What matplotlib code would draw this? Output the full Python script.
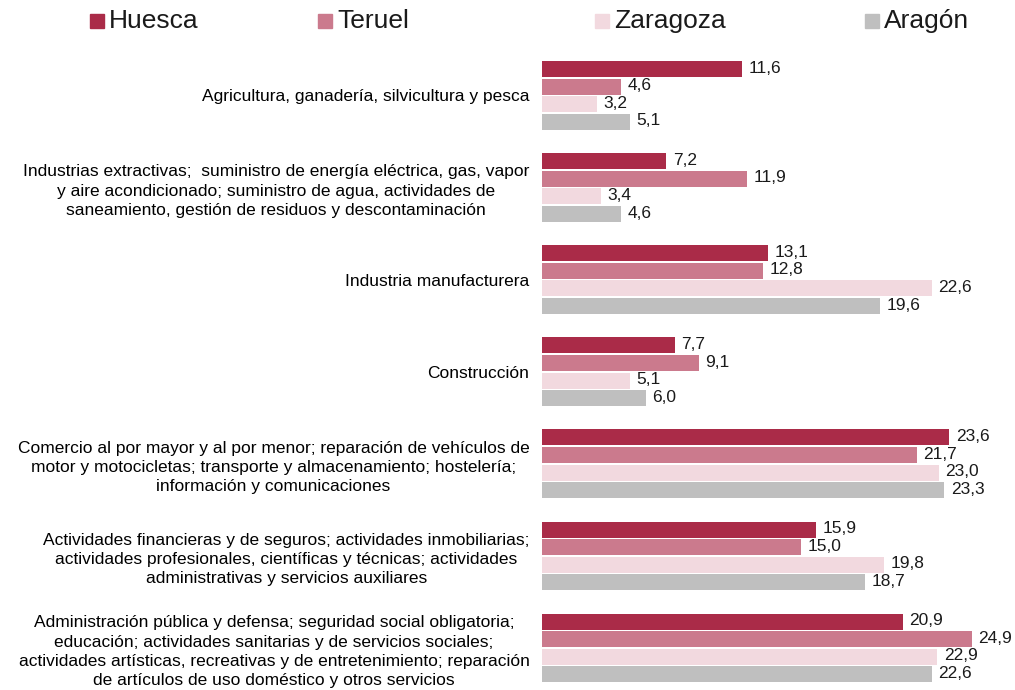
import matplotlib
matplotlib.use("Agg")
import matplotlib.pyplot as plt
from matplotlib.patches import Rectangle
import numpy as np

plt.rcParams['font.family'] = ['Liberation Sans', 'DejaVu Sans']

categories = [
    "Agricultura, ganadería, silvicultura y pesca",
    "Industrias extractivas;  suministro de energía eléctrica, gas, vapor\ny aire acondicionado; suministro de agua, actividades de\nsaneamiento, gestión de residuos y descontaminación",
    "Industria manufacturera",
    "Construcción",
    "Comercio al por mayor y al por menor; reparación de vehículos de\nmotor y motocicletas; transporte y almacenamiento; hostelería;\ninformación y comunicaciones",
    "Actividades financieras y de seguros; actividades inmobiliarias;\nactividades profesionales, científicas y técnicas; actividades\nadministrativas y servicios auxiliares",
    "Administración pública y defensa; seguridad social obligatoria;\neducación; actividades sanitarias y de servicios sociales;\nactividades artísticas, recreativas y de entretenimiento; reparación\nde artículos de uso doméstico y otros servicios",
]
series_names = ["Huesca", "Teruel", "Zaragoza", "Aragón"]
huesca = [11.6, 7.2, 13.1, 7.7, 23.6, 15.9, 20.9]
teruel = [4.6, 11.9, 12.8, 9.1, 21.7, 15.0, 24.9]
zaragoza = [3.2, 3.4, 22.6, 5.1, 23.0, 19.8, 22.9]
aragon = [5.1, 4.6, 19.6, 6.0, 23.3, 18.7, 22.6]
series = [huesca, teruel, zaragoza, aragon]
colors = ["#AA2B48", "#CB7A8D", "#F2D9DF", "#BFBFBF"]

fig = plt.figure(figsize=(10.15, 6.9), dpi=100)
ax = fig.add_axes([542/1015, 0.0, (1008-542)/1015, 1 - 50/690])

pitch = 0.191
height = 0.174
y = np.arange(len(categories))
for i, (vals, col) in enumerate(zip(series, colors)):
    pos = y + (i - 1.5) * pitch
    ax.barh(pos, vals, height=height, color=col, edgecolor='none')
    for p, v in zip(pos, vals):
        ax.text(v + 0.38, p - 0.01, f"{v:.1f}".replace('.', ','), va='center', ha='left',
                fontsize=12.5, color='#1a1a1a')

ax.set_xlim(0, 27)
ax.set_ylim(6.456, -0.494)
ax.set_yticks(y)
ax.set_yticklabels(categories, fontsize=12.5, multialignment='center', linespacing=1.35)
ax.tick_params(axis='y', length=0, pad=9)
ax.set_xticks([])
for s in ax.spines.values():
    s.set_visible(False)

# legend
leg_x = [90, 318, 595, 865]
for name, col, lx in zip(series_names, colors, leg_x):
    fig.patches.append(Rectangle((lx/1015, 1 - 28/690), 14/1015, 14/690,
                                 transform=fig.transFigure, color=col, figure=fig))
    fig.text((lx + 19)/1015, 1 - 21/690, name, fontsize=19, va='center', ha='left',
             color='#1a1a1a')

fig.savefig("out.png", dpi=100)
